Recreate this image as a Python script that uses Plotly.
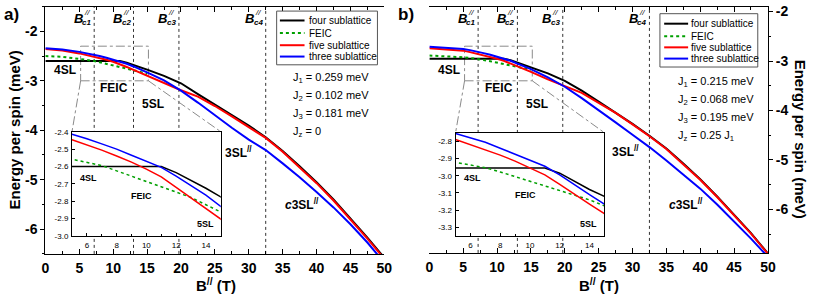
import plotly.graph_objects as go

W, H = 818, 297
FONT = "Arial, 'Liberation Sans', sans-serif"

# ---------------- data ----------------
B = [0, 2.5, 5, 6, 7, 8, 9, 10, 11, 12, 13, 14, 15, 17.5, 20, 22.5, 25, 27.5,
     30, 32.5, 35, 37.5, 40, 42.5, 45, 47.5, 50]

four_a = [-2.60, -2.60, -2.60, -2.60, -2.60, -2.60, -2.60, -2.60, -2.60, -2.635, -2.68,
          -2.725, -2.775, -2.90, -3.05, -3.27, -3.48, -3.69, -3.905, -4.14, -4.42,
          -4.73, -5.05, -5.40, -5.78, -6.17, -6.58]
feic_a = [-2.50, -2.515, -2.558, -2.575, -2.595, -2.625, -2.655, -2.685, -2.715, -2.745,
          -2.778, -2.82, -2.862] + [None] * 14
five_a = [-2.355, -2.39, -2.446, -2.475, -2.506, -2.54, -2.575, -2.615, -2.66, -2.72,
          -2.78, -2.84, -2.90, -3.04, -3.19, -3.32, -3.51, -3.72, -3.93, -4.155, -4.435,
          -4.745, -5.07, -5.42, -5.80, -6.19, -6.60]
three_a = [-2.34, -2.365, -2.415, -2.44, -2.47, -2.50, -2.535, -2.57, -2.605, -2.655,
           -2.71, -2.765, -2.83, -2.99, -3.20, -3.44, -3.70, -3.95, -4.19, -4.40, -4.67,
           -4.95, -5.25, -5.56, -5.90, -6.27, -6.68]

four_b = [-2.955, -2.955, -2.955, -2.955, -2.955, -2.955, -2.955, -2.955, -2.955, -2.985,
          -3.035, -3.08, -3.12, -3.25, -3.40, -3.60, -3.82, -4.04, -4.27, -4.51, -4.77,
          -5.07, -5.39, -5.74, -6.10, -6.48, -6.89]
feic_b = [-2.89, -2.90, -2.923, -2.938, -2.953, -2.978, -3.005, -3.033, -3.06, -3.085,
          -3.11, -3.14, -3.175] + [None] * 14
five_b = [-2.74, -2.76, -2.79, -2.82, -2.85, -2.88, -2.915, -2.953, -2.995, -3.05, -3.11,
          -3.165, -3.22, -3.37, -3.515, -3.645, -3.845, -4.05, -4.28, -4.52, -4.78, -5.08,
          -5.40, -5.75, -6.11, -6.49, -6.90]
three_b = [-2.71, -2.725, -2.755, -2.78, -2.806, -2.84, -2.875, -2.91, -2.945, -2.995,
           -3.054, -3.11, -3.164, -3.33, -3.52, -3.75, -3.99, -4.24, -4.49, -4.74, -5.01,
           -5.29, -5.58, -5.90, -6.24, -6.59, -6.96]

series_names = ["four sublattice", "FEIC", "five sublattice", "three sublattice"]
Bc = [7.2, 13.0, 19.7, 32.5]
Bc_subs = ["c1", "c2", "c3", "c4"]

params_a = ["J<sub>1</sub> = 0.259 meV", "J<sub>2</sub> = 0.102 meV",
            "J<sub>3</sub> = 0.181 meV", "J<sub>z</sub> = 0"]
params_b = ["J<sub>1</sub> = 0.215 meV", "J<sub>2</sub> = 0.068 meV",
            "J<sub>3</sub> = 0.195 meV", "J<sub>z</sub> = 0.25 J<sub>1</sub>"]

x_ticks = [0, 5, 10, 15, 20, 25, 30, 35, 40, 45, 50]
y_ticks = [-6, -5, -4, -3, -2]
y_tick_text = ["-6", "-5", "-4", "-3", "-2"]
inset_x_ticks = [6, 8, 10, 12, 14]
inset_a_y = [-3.0, -2.9, -2.8, -2.7, -2.6, -2.5, -2.4]
inset_a_y_text = ["-3.0", "-2.9", "-2.8", "-2.7", "-2.6", "-2.5", "-2.4"]
inset_b_y = [-3.3, -3.2, -3.1, -3.0, -2.9, -2.8]
inset_b_y_text = ["-3.3", "-3.2", "-3.1", "-3.0", "-2.9", "-2.8"]

COLORS = ["#000000", "#00a000", "#ff0000", "#0000ff"]
DASHES = ["solid", "dot", "solid", "solid"]

# ---------------- geometry (pixels) ----------------
A_X = (42, 386); A_Y = (2.7, 257.7); A_RANGE = (-6.5, -1.5)
B_X = (431.7, 775.3); B_Y = (2.7, 256.7); B_RANGE = (-6.88, -1.9)
IA_X = (69, 220); IA_Y = (131.7, 239.3); IA_RANGE = (-3.0, -2.4)
IB_X = (458.3, 609.3); IB_Y = (132.7, 239.3); IB_RANGE = (-3.35, -2.75)


def xd(px):
    return [px[0] / W, px[1] / W]


def yd(py):
    return [1 - py[1] / H, 1 - py[0] / H]


def P(x, y):
    return x / W, 1 - y / H


fig = go.Figure()

data_a = [four_a, feic_a, five_a, three_a]
data_b = [four_b, feic_b, five_b, three_b]
for data, xa, ya, w in [(data_a, "x", "y", 2), (data_b, "x2", "y2", 2),
                        (data_a, "x3", "y7", 1.5), (data_b, "x4", "y8", 1.5)]:
    for i in range(4):
        fig.add_trace(go.Scatter(x=B, y=data[i], mode="lines", name=series_names[i],
                                 line=dict(color=COLORS[i], width=w, dash=DASHES[i]),
                                 xaxis=xa, yaxis=ya, showlegend=False,
                                 hoverinfo="skip"))

tickfont_main = dict(family=FONT, size=14, color="black", weight="bold")
tickfont_in = dict(family=FONT, size=8, color="black")


def xaxis_main(dom, anchor):
    return dict(domain=xd(dom), range=[0, 50], anchor=anchor, showline=True,
                linecolor="black", linewidth=1.2, mirror="ticks", ticks="inside",
                ticklen=5, tickwidth=1.2, tickcolor="black", tickvals=x_ticks,
                tickfont=tickfont_main, minor=dict(dtick=2.5, tick0=0, ticks="inside",
                                                   ticklen=3, tickcolor="black"),
                showgrid=False, zeroline=False, ticklabelstandoff=1)


def yaxis_gen(dom, rng, anchor, side, ticks, labels, color="black", showline=True,
              mirror=False, overlaying=None):
    d = dict(range=list(rng), anchor=anchor, side=side, showline=showline,
             linecolor=color, linewidth=1.2, mirror=mirror, ticks=ticks, ticklen=4,
             tickwidth=1.2, tickcolor=color, tickvals=y_ticks, ticktext=y_tick_text,
             showticklabels=labels, tickfont=tickfont_main,
             minor=dict(dtick=0.5, tick0=-2, ticks=ticks, ticklen=2, tickcolor=color),
             showgrid=False, zeroline=False)
    if overlaying:
        d["overlaying"] = overlaying
    else:
        d["domain"] = yd(dom)
    return d


def inset_axes(xdom, ydom, yrng, yv, yt, xanchor, yanchor):
    xa = dict(domain=xd(xdom), range=[5, 15], anchor=yanchor, showline=True,
              linecolor="black", linewidth=1, mirror=True, ticks="inside", ticklen=3,
              tickcolor="black", tickvals=inset_x_ticks, tickfont=tickfont_in,
              minor=dict(dtick=1, tick0=5, ticks="inside", ticklen=2, tickcolor="black"),
              showgrid=False, zeroline=False, ticklabelstandoff=1)
    ya = dict(domain=yd(ydom), range=list(yrng), anchor=xanchor, showline=True,
              linecolor="black", linewidth=1, mirror=True, ticks="inside", ticklen=3,
              tickcolor="black", tickvals=yv, ticktext=yt, tickfont=tickfont_in,
              showgrid=False, zeroline=False, ticklabelstandoff=1)
    return xa, ya


ia_x, ia_y = inset_axes(IA_X, IA_Y, IA_RANGE, inset_a_y, inset_a_y_text, "x3", "y7")
ib_x, ib_y = inset_axes(IB_X, IB_Y, IB_RANGE, inset_b_y, inset_b_y_text, "x4", "y8")

fig.update_layout(
    width=W, height=H, margin=dict(l=0, r=0, t=0, b=0),
    paper_bgcolor="white", plot_bgcolor="white", showlegend=False,
    font=dict(family=FONT, color="black"),
    xaxis=xaxis_main(A_X, "y"),
    xaxis2=xaxis_main(B_X, "y2"),
    xaxis3=ia_x, xaxis4=ib_x,
    yaxis=yaxis_gen(A_Y, A_RANGE, "x", "left", "outside", True),
    yaxis6=yaxis_gen(A_Y, A_RANGE, "x", "left", "inside", False, mirror="ticks",
                     overlaying="y"),
    yaxis2=yaxis_gen(B_Y, B_RANGE, "x2", "right", "outside", True),
    yaxis3=yaxis_gen(B_Y, B_RANGE, "x2", "right", "inside", False, showline=False,
                     overlaying="y2"),
    yaxis4=yaxis_gen(B_Y, B_RANGE, "x2", "left", "outside", False, color="#999999",
                     overlaying="y2"),
    yaxis5=yaxis_gen(B_Y, B_RANGE, "x2", "left", "inside", False, color="#999999",
                     overlaying="y2"),
    yaxis7=ia_y, yaxis8=ib_y,
)

shapes = []
anns = []

# critical-field dotted lines
for xa in ["x", "x2"]:
    for bc in Bc:
        shapes.append(dict(type="line", xref=xa, yref=("y" if xa == "x" else "y2") + " domain",
                           x0=bc, x1=bc, y0=0, y1=1, layer="below",
                           line=dict(color="#333333", width=1, dash="dot")))
for xa, ya in [("x3", "y7"), ("x4", "y8")]:
    for bc in Bc[:2]:
        shapes.append(dict(type="line", xref=xa, yref=ya + " domain", x0=bc, x1=bc,
                           y0=0, y1=1, layer="below",
                           line=dict(color="#333333", width=1, dash="dot")))


# zoom rectangles and connectors
def to_data(px, py, X, Y, rng):
    b = (px - X[0]) / (X[1] - X[0]) * 50
    e = rng[1] - (py - Y[0]) / (Y[1] - Y[0]) * (rng[1] - rng[0])
    return b, e


for xa, ya, X, Y, rng, IX, IY, rect in [
        ("x", "y", A_X, A_Y, A_RANGE, IA_X, IA_Y, (5.2, 15.2, -3.0, -2.3)),
        ("x2", "y2", B_X, B_Y, B_RANGE, IB_X, IB_Y, (5.2, 15.2, -3.4, -2.7))]:
    gl = dict(color="#8a8a8a", width=1, dash="dashdot")
    shapes.append(dict(type="rect", xref=xa, yref=ya, x0=rect[0], x1=rect[1],
                       y0=rect[2], y1=rect[3], line=gl, layer="below"))
    tl = to_data(IX[0], IY[0], X, Y, rng)
    tr = to_data(IX[1], IY[0], X, Y, rng)
    shapes.append(dict(type="line", xref=xa, yref=ya, x0=rect[0], y0=rect[2],
                       x1=tl[0], y1=tl[1], line=gl, layer="below"))
    shapes.append(dict(type="line", xref=xa, yref=ya, x0=rect[1], y0=rect[2],
                       x1=tr[0], y1=tr[1], line=gl, layer="below"))


def ann(text, x, y, size, bold=False, xanchor="center", italic=False, angle=0, **kw):
    px, py = P(x, y)
    t = text
    if italic:
        t = "<i>" + t + "</i>"
    if bold:
        t = "<b>" + t + "</b>"
    d = dict(text=t, x=px, y=py, xref="paper", yref="paper", showarrow=False,
             xanchor=xanchor, yanchor="middle", textangle=angle,
             font=dict(family=FONT, size=size, color="black"))
    d.update(kw)
    anns.append(d)


# B_c labels
for xa in ["x", "x2"]:
    for bc, sub in zip(Bc, Bc_subs):
        for text, dx, ypx, size in [("<b><i>B</i></b>", -16, 14.7, 13),
                                    ("<i>//</i>", -7.5, 8.5, 8),
                                    ("<b><i>" + sub + "</i></b>", -7.5, 18.7, 8)]:
            anns.append(dict(text=text, x=bc, xref=xa, y=1 - ypx / H, yref="paper",
                             xshift=dx, showarrow=False, xanchor="center",
                             yanchor="middle", font=dict(family=FONT, size=size,
                                                         color="black")))

# phase labels
for (t, x, y, s) in [("4SL", 62.2, 68, 12), ("FEIC", 111.7, 86.2, 12), ("5SL", 150.8, 103, 12),
                     ("3SL<sup>//</sup>", 238, 152.5, 12),
                     ("<i>c</i>3SL<sup>//</sup>", 302, 206, 12),
                     ("4SL", 451.7, 68, 12), ("FEIC", 502.2, 86.7, 12), ("5SL", 541.3, 103.3, 12),
                     ("3SL<sup>//</sup>", 630.5, 151.5, 12),
                     ("<i>c</i>3SL<sup>//</sup>", 692.5, 206, 12),
                     ("4SL", 85.3, 179.3, 9), ("FEIC", 139.7, 197.7, 9), ("5SL", 204.2, 227.3, 9),
                     ("4SL", 475, 179.3, 9), ("FEIC", 529.7, 197.3, 9), ("5SL", 593.3, 227.3, 9)]:
    ann(t, x, y, s, bold=True)

# parameters
for params, x0, ys in [(params_a, 291.7, [76, 94.5, 113, 131.5]),
                       (params_b, 681.7, [80, 98.7, 117.2, 136])]:
    for t, y in zip(params, ys):
        ann(t, x0, y, 11, xanchor="left")

# manual legends
for box, lx, tx, ys in [((276.7, 7.3, 379, 62.7), (280, 305), 307.5, [17, 30, 42.5, 54.2]),
                        ((665.7, 10, 765, 65), (670, 694.3), 695.5, [20.3, 33.3, 44.7, 56.3])]:
    x0, y0 = P(box[0], box[1])
    x1, y1 = P(box[2], box[3])
    shapes.append(dict(type="rect", xref="paper", yref="paper", x0=x0, x1=x1, y0=y1, y1=y0,
                       line=dict(color="#555555", width=1), fillcolor="white", layer="above"))
    for i, y in enumerate(ys):
        a0, yy = P(lx[0], y)
        a1, _ = P(lx[1], y)
        shapes.append(dict(type="line", xref="paper", yref="paper", x0=a0, x1=a1, y0=yy, y1=yy,
                           line=dict(color=COLORS[i], width=2, dash=DASHES[i]), layer="above"))
        ann(series_names[i], tx, y, 10, xanchor="left")

# axis titles and panel labels
ann("Energy per spin (meV)", 10.5, 130, 15, bold=True, angle=-90)
ann("Energy per spin (meV)", 808, 139, 15, bold=True, angle=90)
ann("B<sup>//</sup> (T)", 215, 289.3, 15, bold=True)
ann("B<sup>//</sup> (T)", 603.5, 289.3, 15, bold=True)
ann("a)", 8, 11, 17, bold=True)
ann("b)", 408, 11, 17, bold=True)

fig.update_layout(shapes=shapes, annotations=anns)
fig.write_html("out.html", config={"displayModeBar": False},
               post_script="document.body.style.margin='0';")
